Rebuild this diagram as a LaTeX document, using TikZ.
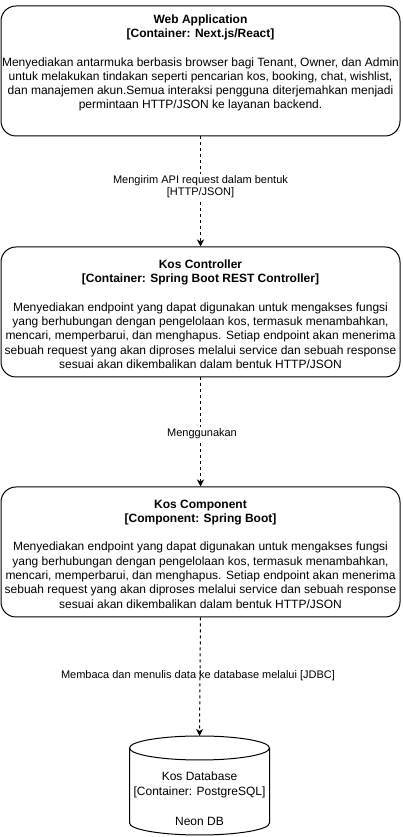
\documentclass[tikz,border=0pt]{standalone}
\usepackage{fontspec}
\setmainfont{Liberation Sans}
\usetikzlibrary{arrows.meta}
\begin{document}
\begin{tikzpicture}[x=1pt,y=1pt,
  box/.style={draw, line width=1pt, rounded corners=15pt, minimum width=399pt, minimum height=130pt, inner sep=0pt, fill=white},
  txt/.style={align=center, inner sep=0pt, font={\fontsize{12}{14.3}\selectfont\lineskiplimit=-100pt}},
  lbl/.style={font={\fontsize{11}{12.5}\selectfont\lineskiplimit=-100pt}, align=center, inner sep=1pt},
  conn/.style={line width=1pt, dash pattern=on 3pt off 3pt, -{Stealth[length=7pt,width=7pt,inset=2pt]}}]
\useasboundingbox (0,0) rectangle (402,837);
\node[box] (web) at (200.5,766) {};
\node[txt] (webtxt) at (200.5,774) {\textbf{Web Application}\\\textbf{[Container: Next.js/React]}\\[14.3pt]Menyediakan antarmuka berbasis browser bagi Tenant, Owner, dan Admin\\untuk melakukan tindakan seperti pencarian kos, booking, chat, wishlist,\\dan manajemen akun.Semua interaksi pengguna diterjemahkan menjadi\\permintaan HTTP/JSON ke layanan backend.};
\node[box] (ctrl) at (200.5,525) {};
\node[txt] (ctrltxt) at (200.5,523) {\textbf{Kos Controller}\\\textbf{[Container: Spring Boot REST Controller]}\\[14.3pt]Menyediakan endpoint yang dapat digunakan untuk mengakses fungsi\\yang berhubungan dengan pengelolaan kos, termasuk menambahkan,\\mencari, memperbarui, dan menghapus. Setiap endpoint akan menerima\\sebuah request yang akan diproses melalui service dan sebuah response\\sesuai akan dikembalikan dalam bentuk HTTP/JSON};
\node[box] (comp) at (200.5,285) {};
\node[txt] (comptxt) at (200.5,283) {\textbf{Kos Component}\\\textbf{[Component: Spring Boot]}\\[14.3pt]Menyediakan endpoint yang dapat digunakan untuk mengakses fungsi\\yang berhubungan dengan pengelolaan kos, termasuk menambahkan,\\mencari, memperbarui, dan menghapus. Setiap endpoint akan menerima\\sebuah request yang akan diproses melalui service dan sebuah response\\sesuai akan dikembalikan dalam bentuk HTTP/JSON};
% database cylinder
\draw[line width=1pt, fill=white] (129.5,89) -- (129.5,14) arc[start angle=180,end angle=360,x radius=70,y radius=12] -- (269.5,89);
\draw[line width=1pt] (199.5,89) ellipse[x radius=70, y radius=12];
\coordinate (dbtop) at (199.5,101);
\node[align=center, font={\fontsize{12}{15}\selectfont\lineskiplimit=-100pt}, inner sep=0pt] (db) at (199.5,38.5) {Kos Database\\{}[Container: PostgreSQL]\\[15pt]Neon DB};
% connectors
\draw[conn] (web.south) -- (ctrl.north);
\draw[conn] (ctrl.south) -- (comp.north);
\draw[conn] (comp.south) -- (dbtop);
\node[lbl, fill=white] (l1) at (200.5,650.5) {Mengirim API request dalam bentuk\\{}[HTTP/JSON]};
\node[lbl, fill=white] (l2) at (202,403.5) {Menggunakan};
\node[lbl] (l3) at (198,161) {Membaca dan menulis data ke database melalui [JDBC]};
\end{tikzpicture}
\end{document}
